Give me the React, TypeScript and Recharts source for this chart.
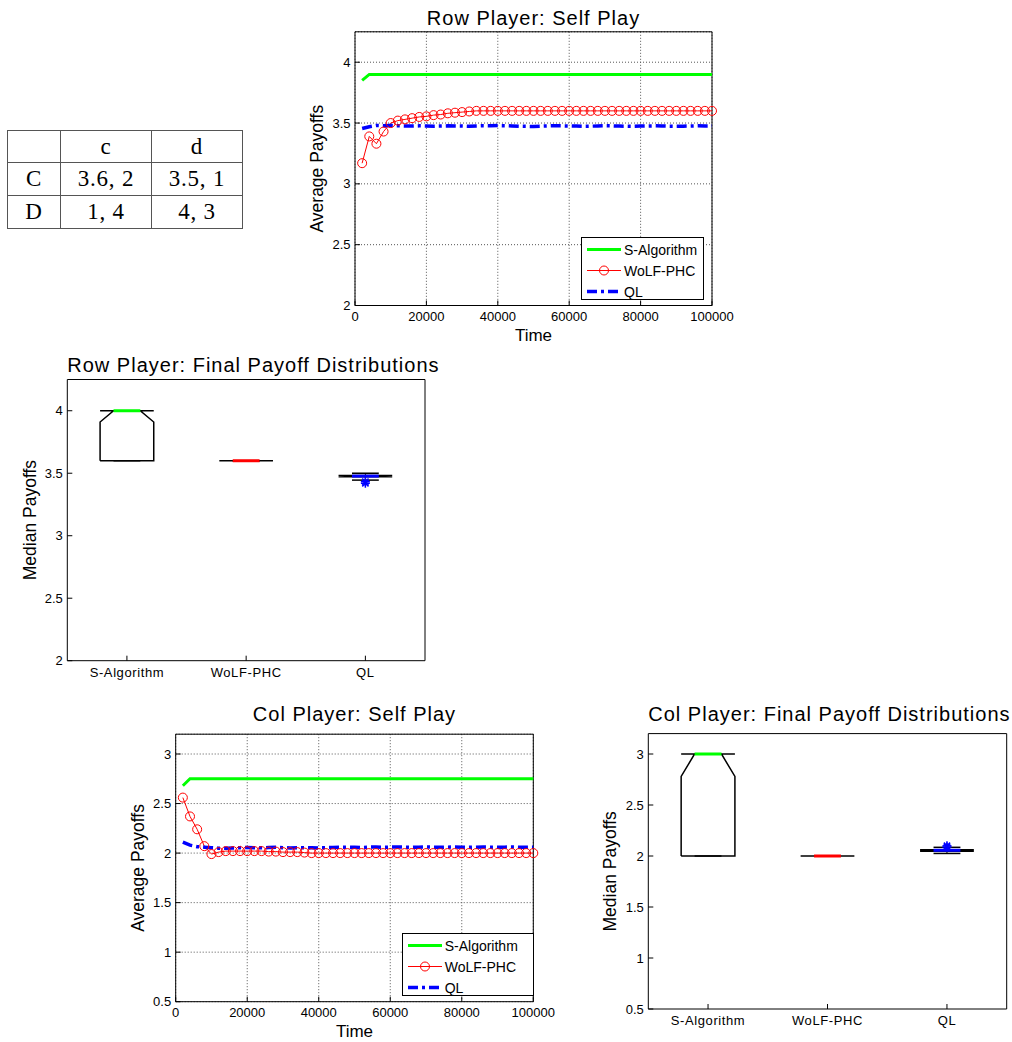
import React from 'react'
import {
  LineChart,
  ComposedChart,
  Line,
  Scatter,
  XAxis,
  YAxis,
  CartesianGrid,
  ReferenceArea,
  Legend,
} from 'recharts'

// payoff matrix shown at the top left
const TABLE_COLS = ['c', 'd']
const TABLE_ROWS = ['C', 'D']
const TABLE_CELLS = [
  ['3.6, 2', '3.5, 1'],
  ['1, 4', '4, 3'],
]

// self play curves, one value every 2000 steps
const TIME = [
  2000, 4000, 6000, 8000, 10000, 12000, 14000, 16000, 18000, 20000,
  22000, 24000, 26000, 28000, 30000, 32000, 34000, 36000, 38000, 40000,
  42000, 44000, 46000, 48000, 50000, 52000, 54000, 56000, 58000, 60000,
  62000, 64000, 66000, 68000, 70000, 72000, 74000, 76000, 78000, 80000,
  82000, 84000, 86000, 88000, 90000, 92000, 94000, 96000, 98000, 100000,
]

const ROW_S_ALG = [
  3.85, 3.9, 3.9, 3.9, 3.9, 3.9, 3.9, 3.9, 3.9, 3.9,
  3.9, 3.9, 3.9, 3.9, 3.9, 3.9, 3.9, 3.9, 3.9, 3.9,
  3.9, 3.9, 3.9, 3.9, 3.9, 3.9, 3.9, 3.9, 3.9, 3.9,
  3.9, 3.9, 3.9, 3.9, 3.9, 3.9, 3.9, 3.9, 3.9, 3.9,
  3.9, 3.9, 3.9, 3.9, 3.9, 3.9, 3.9, 3.9, 3.9, 3.9,
]
const ROW_WOLF = [
  3.17, 3.39, 3.33, 3.43, 3.5, 3.52, 3.53, 3.54, 3.55, 3.555,
  3.565, 3.57, 3.58, 3.585, 3.59, 3.595, 3.6, 3.6, 3.6, 3.6,
  3.6, 3.6, 3.6, 3.6, 3.6, 3.6, 3.6, 3.6, 3.6, 3.6,
  3.6, 3.6, 3.6, 3.6, 3.6, 3.6, 3.6, 3.6, 3.6, 3.6,
  3.6, 3.6, 3.6, 3.6, 3.6, 3.6, 3.6, 3.6, 3.6, 3.6,
]
const ROW_QL = [
  3.455, 3.47, 3.48, 3.478, 3.48, 3.478, 3.476, 3.475, 3.477, 3.476,
  3.474, 3.475, 3.477, 3.476, 3.475, 3.473, 3.476, 3.478, 3.477, 3.479,
  3.478, 3.476, 3.474, 3.473, 3.472, 3.474, 3.476, 3.478, 3.477, 3.476,
  3.475, 3.473, 3.474, 3.476, 3.478, 3.477, 3.475, 3.474, 3.473, 3.475,
  3.476, 3.477, 3.476, 3.474, 3.473, 3.474, 3.476, 3.477, 3.476, 3.477,
]

const COL_S_ALG = [
  2.68, 2.75, 2.75, 2.75, 2.75, 2.75, 2.75, 2.75, 2.75, 2.75,
  2.75, 2.75, 2.75, 2.75, 2.75, 2.75, 2.75, 2.75, 2.75, 2.75,
  2.75, 2.75, 2.75, 2.75, 2.75, 2.75, 2.75, 2.75, 2.75, 2.75,
  2.75, 2.75, 2.75, 2.75, 2.75, 2.75, 2.75, 2.75, 2.75, 2.75,
  2.75, 2.75, 2.75, 2.75, 2.75, 2.75, 2.75, 2.75, 2.75, 2.75,
]
const COL_WOLF = [
  2.56, 2.37, 2.24, 2.07, 1.99, 2.01, 2.02, 2.02, 2.02, 2.02,
  2.02, 2.02, 2.015, 2.015, 2.01, 2.01, 2.01, 2.005, 2.0, 2.0,
  2.0, 2.0, 2.0, 2.0, 2.0, 2.0, 2.0, 2.0, 2.0, 2.0,
  2.0, 2.0, 2.0, 2.0, 2.0, 2.0, 2.0, 2.0, 2.0, 2.0,
  2.0, 2.0, 2.0, 2.0, 2.0, 2.0, 2.0, 2.0, 2.0, 2.0,
]
const COL_QL = [
  2.11, 2.08, 2.065, 2.06, 2.055, 2.05, 2.05, 2.052, 2.055, 2.057,
  2.055, 2.053, 2.056, 2.058, 2.055, 2.052, 2.053, 2.055, 2.054, 2.052,
  2.054, 2.057, 2.058, 2.06, 2.058, 2.056, 2.06, 2.061, 2.059, 2.06,
  2.061, 2.06, 2.058, 2.06, 2.061, 2.06, 2.059, 2.06, 2.061, 2.06,
  2.058, 2.06, 2.061, 2.06, 2.059, 2.06, 2.061, 2.06, 2.059, 2.06,
]

const TIME_TICKS = [0, 20000, 40000, 60000, 80000, 100000]
const ROW_TICKS = [2, 2.5, 3, 3.5, 4]
const COL_TICKS = [0.5, 1, 1.5, 2, 2.5, 3]

// final payoff box plots (quartiles, medians, notches, whisker ends)
const ALGOS = ['S-Algorithm', 'WoLF-PHC', 'QL']
const ALGO_COLORS = ['#00ff00', '#ff0000', '#0000ff']

const ROW_Q1 = [3.6, 3.6, 3.472]
const ROW_Q3 = [4.0, 3.6, 3.482]
const ROW_MED = [4.0, 3.6, 3.477]
const ROW_NOTCH_LO = [3.91, 3.6, 3.465]
const ROW_NOTCH_HI = [4.09, 3.6, 3.49]
const ROW_WHISK_LO = [3.6, 3.6, 3.445]
const ROW_WHISK_HI = [4.0, 3.6, 3.5]
const ROW_OUTLIERS = [
  { x: 3, y: 3.42 },
  { x: 3, y: 3.433 },
]

const COL_Q1 = [2.0, 2.0, 2.047]
const COL_Q3 = [3.0, 2.0, 2.062]
const COL_MED = [3.0, 2.0, 2.056]
const COL_NOTCH_LO = [2.78, 2.0, 2.04]
const COL_NOTCH_HI = [3.22, 2.0, 2.07]
const COL_WHISK_LO = [2.0, 2.0, 2.025]
const COL_WHISK_HI = [3.0, 2.0, 2.085]
const COL_OUTLIERS = [
  { x: 3, y: 2.1 },
  { x: 3, y: 2.088 },
]

const BOX_HALF = 0.225
const FONT = '"Liberation Sans", Arial, Helvetica, sans-serif'
const TICK = { fill: '#000', fontSize: 13 }
const CAT_TICK = { fill: '#000', fontSize: 13, letterSpacing: 0.6 }

const SERIES = [
  { key: 's', name: 'S-Algorithm', color: '#00ff00', width: 3, dash: undefined, marker: false },
  { key: 'wolf', name: 'WoLF-PHC', color: '#ff0000', width: 1, dash: undefined, marker: true },
  { key: 'ql', name: 'QL', color: '#0000ff', width: 3.5, dash: '10 4 3 4', marker: false },
]

function LegendBox() {
  return (
    <div
      style={{
        width: '100%',
        height: '100%',
        boxSizing: 'border-box',
        border: '1px solid #000',
        background: '#fff',
        padding: '1px 0 0 5px',
        fontFamily: FONT,
        fontSize: 14,
        color: '#000',
      }}
    >
      {SERIES.map((s) => (
        <div key={s.key} style={{ display: 'flex', alignItems: 'center', height: 21 }}>
          <svg width={34} height={21} style={{ marginRight: 3 }}>
            <line x1={0} y1={10.5} x2={34} y2={10.5} stroke={s.color} strokeWidth={s.width} strokeDasharray={s.dash} />
            {s.marker && <circle cx={17} cy={10.5} r={4.5} stroke={s.color} fill="none" strokeWidth={1} />}
          </svg>
          <span style={{ whiteSpace: 'nowrap' }}>{s.name}</span>
        </div>
      ))}
    </div>
  )
}

function Asterisk(props: any) {
  const { cx, cy } = props
  if (cx == null || cy == null) return null
  const r = 4.5
  const d = r * 0.7
  return (
    <g stroke="#0000ff" strokeWidth={1.5}>
      <line x1={cx - r} y1={cy} x2={cx + r} y2={cy} />
      <line x1={cx} y1={cy - r} x2={cx} y2={cy + r} />
      <line x1={cx - d} y1={cy - d} x2={cx + d} y2={cy + d} />
      <line x1={cx - d} y1={cy + d} x2={cx + d} y2={cy - d} />
    </g>
  )
}

function Title({ left, width, top, text }: { left: number; width: number; top: number; text: string }) {
  return (
    <div
      style={{
        position: 'absolute',
        left,
        width,
        top,
        textAlign: 'center',
        fontSize: 20,
        lineHeight: '20px',
        letterSpacing: 1,
        whiteSpace: 'nowrap',
        color: '#000',
      }}
    >
      {text}
    </div>
  )
}

interface SelfPlayProps {
  left: number
  top: number
  width: number
  height: number
  margin: { top: number; right: number; bottom: number; left: number }
  yWidth: number
  title: string
  titleTop: number
  yDomain: [number, number]
  yTicks: number[]
  sAlg: number[]
  wolf: number[]
  ql: number[]
  legend: { left: number; top: number; width: number; height: number }
  labelOffset: number
}

function SelfPlay(p: SelfPlayProps) {
  const data = TIME.map((t, i) => ({ t, s: p.sAlg[i], wolf: p.wolf[i], ql: p.ql[i] }))
  const plotLeft = p.margin.left + p.yWidth
  const plotWidth = p.width - plotLeft - p.margin.right

  return (
    <div style={{ position: 'absolute', left: p.left, top: p.top, width: p.width, height: p.height }}>
      <Title left={plotLeft} width={plotWidth} top={p.titleTop} text={p.title} />
      <LineChart width={p.width} height={p.height} data={data} margin={p.margin}>
        <CartesianGrid stroke="#555" strokeDasharray="1 2" />
        <ReferenceArea x1={0} x2={100000} y1={p.yDomain[0]} y2={p.yDomain[1]} fill="none" stroke="#000" strokeWidth={1} ifOverflow="visible" />
        <XAxis
          dataKey="t"
          type="number"
          domain={[0, 100000]}
          ticks={TIME_TICKS}
          interval={0}
          axisLine={false}
          stroke="#000"
          tickSize={-5}
          tickMargin={11.5}
          tick={TICK}
          height={40}
          label={{ value: 'Time', position: 'insideBottom', offset: 4.5, style: { fontSize: 17, fill: '#000' } }}
        />
        <XAxis xAxisId="top" orientation="top" mirror type="number" domain={[0, 100000]} ticks={TIME_TICKS} interval={0} tick={false} axisLine={false} stroke="#000" tickSize={5} height={1} />
        <YAxis
          type="number"
          domain={p.yDomain}
          ticks={p.yTicks}
          interval={0}
          axisLine={false}
          stroke="#000"
          tickSize={-5}
          tickMargin={9.5}
          tick={TICK}
          width={p.yWidth}
          label={{ value: 'Average Payoffs', angle: -90, position: 'insideLeft', offset: p.labelOffset, style: { textAnchor: 'middle', fontSize: 17.5, fill: '#000' } }}
        />
        <YAxis yAxisId="right" orientation="right" mirror type="number" domain={p.yDomain} ticks={p.yTicks} interval={0} tick={false} axisLine={false} stroke="#000" tickSize={5} width={1} />
        <Legend
          layout="horizontal"
          verticalAlign="middle"
          align="center"
          wrapperStyle={{ left: p.legend.left, top: p.legend.top, width: p.legend.width, height: p.legend.height, margin: 0 }}
          content={() => <LegendBox />}
        />
        {SERIES.map((s) => (
          <Line
            key={s.key}
            dataKey={s.key}
            name={s.name}
            type="linear"
            stroke={s.color}
            strokeWidth={s.width}
            strokeDasharray={s.dash}
            dot={s.marker ? { r: 4.5, stroke: s.color, strokeWidth: 1, fill: 'none' } : false}
            activeDot={false}
            isAnimationActive={false}
          />
        ))}
      </LineChart>
    </div>
  )
}

function boxOutline(x: number, q1: number, q3: number, med: number, nlo: number, nhi: number) {
  const w = BOX_HALF
  const lo = Math.max(nlo, q1)
  const hi = Math.min(nhi, q3)
  return [
    { x: x - w, y: q1 },
    { x: x - w, y: lo },
    { x: x - w / 2, y: med },
    { x: x - w, y: hi },
    { x: x - w, y: q3 },
    { x: x + w, y: q3 },
    { x: x + w, y: hi },
    { x: x + w / 2, y: med },
    { x: x + w, y: lo },
    { x: x + w, y: q1 },
    { x: x - w, y: q1 },
  ]
}

interface BoxProps {
  left: number
  top: number
  width: number
  height: number
  margin: { top: number; right: number; bottom: number; left: number }
  yWidth: number
  title: string
  titleTop: number
  yDomain: [number, number]
  yTicks: number[]
  q1: number[]
  q3: number[]
  med: number[]
  nlo: number[]
  nhi: number[]
  wlo: number[]
  whi: number[]
  outliers: { x: number; y: number }[]
  labelOffset: number
  catMargin: number
}

function BoxChart(p: BoxProps) {
  const plotLeft = p.margin.left + p.yWidth
  const plotWidth = p.width - plotLeft - p.margin.right
  const w = BOX_HALF

  return (
    <div style={{ position: 'absolute', left: p.left, top: p.top, width: p.width, height: p.height }}>
      <Title left={plotLeft} width={plotWidth} top={p.titleTop} text={p.title} />
      <ComposedChart width={p.width} height={p.height} margin={p.margin}>
        <ReferenceArea x1={0.5} x2={3.5} y1={p.yDomain[0]} y2={p.yDomain[1]} fill="none" stroke="#000" strokeWidth={1} ifOverflow="visible" />
        <XAxis
          dataKey="x"
          type="number"
          domain={[0.5, 3.5]}
          ticks={[1, 2, 3]}
          interval={0}
          tickFormatter={(v: number) => ALGOS[v - 1]}
          axisLine={false}
          stroke="#000"
          tickSize={-5}
          tickMargin={p.catMargin}
          tick={CAT_TICK}
          height={30}
        />
        <XAxis xAxisId="top" orientation="top" mirror type="number" domain={[0.5, 3.5]} ticks={[1, 2, 3]} interval={0} tick={false} axisLine={false} stroke="#000" tickSize={5} height={1} />
        <YAxis
          dataKey="y"
          type="number"
          domain={p.yDomain}
          ticks={p.yTicks}
          interval={0}
          axisLine={false}
          stroke="#000"
          tickSize={-5}
          tickMargin={9.5}
          tick={TICK}
          width={p.yWidth}
          label={{ value: 'Median Payoffs', angle: -90, position: 'insideLeft', offset: p.labelOffset, style: { textAnchor: 'middle', fontSize: 17.5, fill: '#000' } }}
        />
        <YAxis yAxisId="right" orientation="right" mirror type="number" domain={p.yDomain} ticks={p.yTicks} interval={0} tick={false} axisLine={false} stroke="#000" tickSize={5} width={1} />
        {ALGOS.map((name, i) => {
          const x = i + 1
          return [
            <Line key={`wh-${name}`} data={[{ x, y: p.q3[i] }, { x, y: p.whi[i] }]} dataKey="y" stroke="#000" strokeWidth={1} strokeDasharray="3 2" dot={false} activeDot={false} isAnimationActive={false} />,
            <Line key={`wl-${name}`} data={[{ x, y: p.q1[i] }, { x, y: p.wlo[i] }]} dataKey="y" stroke="#000" strokeWidth={1} strokeDasharray="3 2" dot={false} activeDot={false} isAnimationActive={false} />,
            <Line key={`ch-${name}`} data={[{ x: x - w / 2, y: p.whi[i] }, { x: x + w / 2, y: p.whi[i] }]} dataKey="y" stroke="#000" strokeWidth={1.5} dot={false} activeDot={false} isAnimationActive={false} />,
            <Line key={`cl-${name}`} data={[{ x: x - w / 2, y: p.wlo[i] }, { x: x + w / 2, y: p.wlo[i] }]} dataKey="y" stroke="#000" strokeWidth={1.5} dot={false} activeDot={false} isAnimationActive={false} />,
            <Line key={`box-${name}`} data={boxOutline(x, p.q1[i], p.q3[i], p.med[i], p.nlo[i], p.nhi[i])} dataKey="y" stroke="#000" strokeWidth={1.5} dot={false} activeDot={false} isAnimationActive={false} />,
          ]
        })}
        {ALGOS.map((name, i) => (
          <Line
            key={`med-${name}`}
            data={[{ x: i + 1 - w / 2, y: p.med[i] }, { x: i + 1 + w / 2, y: p.med[i] }]}
            dataKey="y"
            stroke={ALGO_COLORS[i]}
            strokeWidth={3}
            dot={false}
            activeDot={false}
            isAnimationActive={false}
          />
        ))}
        <Scatter data={p.outliers} dataKey="y" shape={<Asterisk />} isAnimationActive={false} />
      </ComposedChart>
    </div>
  )
}

function PayoffTable() {
  const cell = {
    border: '1.5px solid #555',
    textAlign: 'center' as const,
    padding: 0,
    height: 31,
    letterSpacing: 0.8,
  }
  return (
    <table
      style={{
        position: 'absolute',
        left: 7,
        top: 130,
        borderCollapse: 'collapse',
        fontFamily: '"Liberation Serif", "DejaVu Serif", serif',
        fontSize: 23,
        lineHeight: '26px',
        color: '#000',
      }}
    >
      <tbody>
        <tr>
          <td style={{ ...cell, width: 52 }}></td>
          {TABLE_COLS.map((c) => (
            <td key={c} style={{ ...cell, width: 90 }}>{c}</td>
          ))}
        </tr>
        {TABLE_ROWS.map((r, i) => (
          <tr key={r}>
            <td style={{ ...cell, height: 32 }}>{r}</td>
            {TABLE_CELLS[i].map((v, j) => (
              <td key={j} style={{ ...cell, height: 32 }}>{v}</td>
            ))}
          </tr>
        ))}
      </tbody>
    </table>
  )
}

export default function App() {
  return (
    <div style={{ position: 'absolute', left: 0, top: 0, width: 1012, height: 1042, background: '#fff', fontFamily: FONT }}>
      <PayoffTable />
      <SelfPlay
        left={290}
        top={0}
        width={465}
        height={350}
        margin={{ top: 31.8, right: 43, bottom: 4.5, left: 0 }}
        yWidth={65}
        title="Row Player: Self Play"
        titleTop={8}
        yDomain={[2, 4.25]}
        yTicks={ROW_TICKS}
        sAlg={ROW_S_ALG}
        wolf={ROW_WOLF}
        ql={ROW_QL}
        legend={{ left: 291, top: 237, width: 123, height: 63 }}
        labelOffset={27}
      />
      <BoxChart
        left={0}
        top={350}
        width={440}
        height={350}
        margin={{ top: 29.5, right: 15, bottom: 9.3, left: 0 }}
        yWidth={67.3}
        title="Row Player: Final Payoff Distributions"
        titleTop={5}
        yDomain={[2, 4.25]}
        yTicks={ROW_TICKS}
        q1={ROW_Q1}
        q3={ROW_Q3}
        med={ROW_MED}
        nlo={ROW_NOTCH_LO}
        nhi={ROW_NOTCH_HI}
        wlo={ROW_WHISK_LO}
        whi={ROW_WHISK_HI}
        outliers={ROW_OUTLIERS}
        labelOffset={30}
        catMargin={12.5}
      />
      <SelfPlay
        left={110}
        top={700}
        width={465}
        height={342}
        margin={{ top: 34.2, right: 41.7, bottom: 0.3, left: 0 }}
        yWidth={65.7}
        title="Col Player: Self Play"
        titleTop={4}
        yDomain={[0.5, 3.2]}
        yTicks={COL_TICKS}
        sAlg={COL_S_ALG}
        wolf={COL_WOLF}
        ql={COL_QL}
        legend={{ left: 291.7, top: 233.3, width: 132.6, height: 62.7 }}
        labelOffset={28}
      />
      <BoxChart
        left={570}
        top={700}
        width={442}
        height={342}
        margin={{ top: 33.6, right: 5.3, bottom: 3, left: 0 }}
        yWidth={78.3}
        title="Col Player: Final Payoff Distributions"
        titleTop={4}
        yDomain={[0.5, 3.2]}
        yTicks={COL_TICKS}
        q1={COL_Q1}
        q3={COL_Q3}
        med={COL_MED}
        nlo={COL_NOTCH_LO}
        nhi={COL_NOTCH_HI}
        wlo={COL_WHISK_LO}
        whi={COL_WHISK_HI}
        outliers={COL_OUTLIERS}
        labelOffset={40}
        catMargin={11.7}
      />
    </div>
  )
}
